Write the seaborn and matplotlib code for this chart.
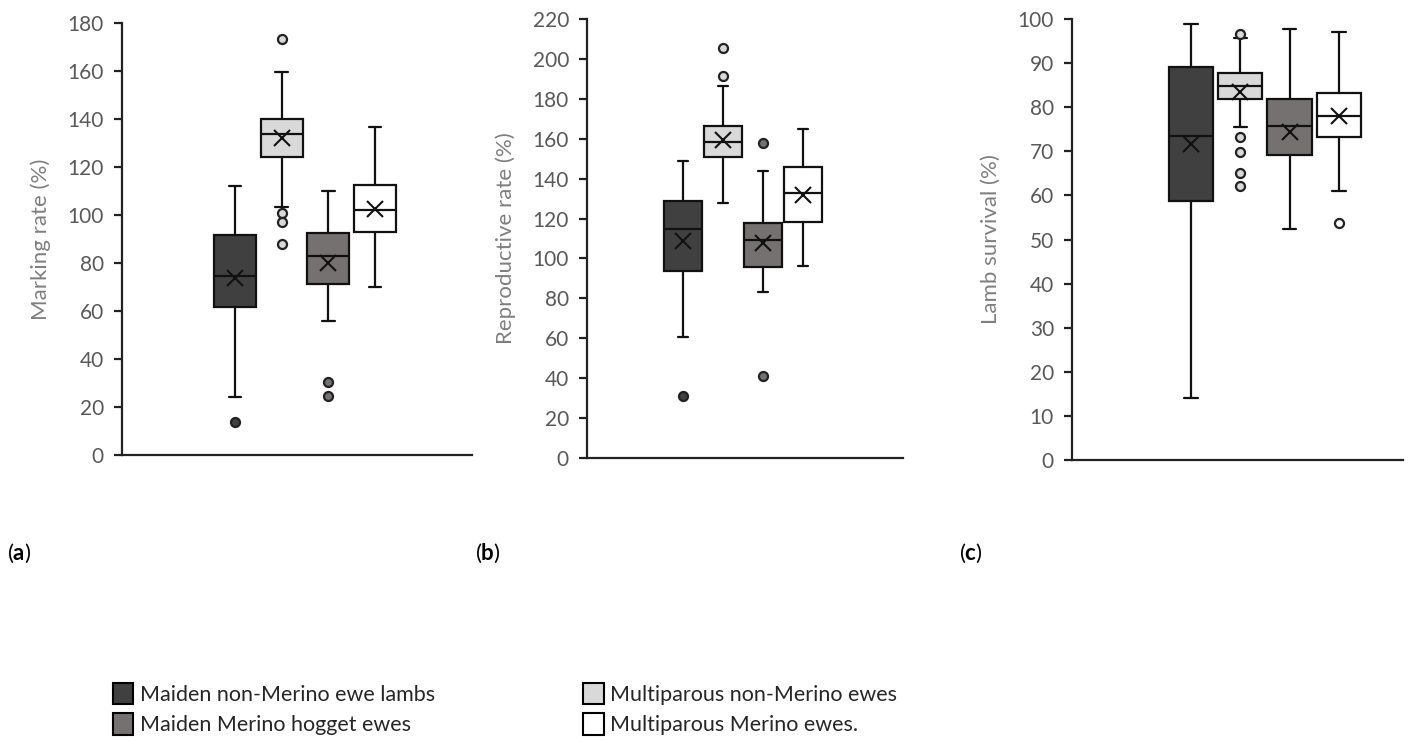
import matplotlib
matplotlib.use("Agg")
import matplotlib.pyplot as plt
from matplotlib.patches import Patch
import seaborn as sns

sns.set_theme(style="ticks")
plt.rcParams['font.family'] = ['Lato', 'DejaVu Sans']
plt.rcParams['mathtext.fontset'] = 'custom'
plt.rcParams['mathtext.rm'] = 'Lato'
plt.rcParams['mathtext.bf'] = 'Lato:bold'

groups = ["Maiden non-Merino ewe lambs", "Multiparous non-Merino ewes",
          "Maiden Merino hogget ewes", "Multiparous Merino ewes."]
colors = ["#404040", "#d9d9d9", "#767171", "#ffffff"]

# Panel (a) Marking rate (%)
a_whislo = [24.3, 103.5, 56.0, 70.0]
a_q1 = [61.8, 124.3, 71.3, 93.1]
a_med = [74.4, 133.7, 83.1, 101.9]
a_q3 = [91.8, 140.0, 92.4, 112.6]
a_whishi = [111.9, 159.7, 110.0, 136.5]
a_mean = [73.8, 132.0, 80.2, 102.3]
a_fliers = [[13.9], [173.5, 101.0, 96.9, 87.9], [30.6, 24.7], []]

# Panel (b) Reproductive rate (%)
b_whislo = [60.6, 128.0, 83.1, 96.0]
b_q1 = [93.6, 150.7, 95.6, 118.3]
b_med = [115.0, 158.2, 109.3, 132.9]
b_q3 = [128.8, 166.4, 118.0, 145.7]
b_whishi = [149.0, 186.6, 143.9, 164.9]
b_mean = [108.5, 159.2, 107.7, 131.9]
b_fliers = [[31.2], [205.6, 191.3], [157.7, 40.9], []]

# Panel (c) Lamb survival (%)
c_whislo = [14.0, 75.6, 52.3, 61.0]
c_q1 = [58.8, 81.8, 69.2, 73.3]
c_med = [73.5, 84.7, 75.7, 78.0]
c_q3 = [89.1, 87.7, 81.9, 83.2]
c_whishi = [98.8, 95.8, 97.7, 97.1]
c_mean = [71.6, 83.5, 74.4, 78.0]
c_fliers = [[], [96.5, 73.2, 69.9, 65.0, 62.1], [], [53.7]]

panels = [
    dict(whislo=a_whislo, q1=a_q1, med=a_med, q3=a_q3, whishi=a_whishi, mean=a_mean,
         fliers=a_fliers, ylabel="Marking rate (%)", ymax=180, step=20,
         rect=[122/1409, 1-455/742, 350/1409, 432/742], xlim=(-2.42, 5.08), width=0.9, tag="a"),
    dict(whislo=b_whislo, q1=b_q1, med=b_med, q3=b_q3, whishi=b_whishi, mean=b_mean,
         fliers=b_fliers, ylabel="Reproductive rate (%)", ymax=220, step=20,
         rect=[587/1409, 1-458/742, 316/1409, 439/742], xlim=(-2.4, 5.5), width=0.93, tag="b"),
    dict(whislo=c_whislo, q1=c_q1, med=c_med, q3=c_q3, whishi=c_whishi, mean=c_mean,
         fliers=c_fliers, ylabel="Lamb survival (%)", ymax=100, step=10,
         rect=[1072/1409, 1-460/742, 331/1409, 441/742], xlim=(-2.41, 4.3), width=0.9, tag="c"),
]
tag_x = [7/1409, 475/1409, 959/1409]

fig = plt.figure(figsize=(14.09, 7.42), dpi=100)
fig.patch.set_facecolor("white")

for i, p in enumerate(panels):
    ax = fig.add_axes(p["rect"])
    stats = []
    for k in range(4):
        stats.append(dict(whislo=p["whislo"][k], q1=p["q1"][k], med=p["med"][k],
                          q3=p["q3"][k], whishi=p["whishi"][k], mean=p["mean"][k],
                          fliers=p["fliers"][k], label=groups[k]))
    res = ax.bxp(stats, positions=range(4), widths=p["width"], capwidths=0.27,
                 patch_artist=True, showmeans=True, showfliers=True,
                 boxprops=dict(edgecolor="#111111", linewidth=1.6),
                 medianprops=dict(color="#111111", linewidth=1.6),
                 whiskerprops=dict(color="#111111", linewidth=1.6),
                 capprops=dict(color="#111111", linewidth=1.6),
                 meanprops=dict(marker="x", markersize=12, markeredgecolor="#111111",
                                markeredgewidth=1.5),
                 flierprops=dict(marker="o", markersize=6.5, markeredgecolor="#222222",
                                 markeredgewidth=1.6))
    for k, box in enumerate(res["boxes"]):
        box.set_facecolor(colors[k])
    for k, fl in enumerate(res["fliers"]):
        fl.set_markerfacecolor(colors[k])
    ax.set_xlim(*p["xlim"])
    ax.set_ylim(0, p["ymax"])
    ax.set_yticks(range(0, p["ymax"] + 1, p["step"]))
    ax.set_xticks([])
    ax.set_facecolor("white")
    sns.despine(ax=ax)
    for s in ["left", "bottom"]:
        ax.spines[s].set_color("#222222")
        ax.spines[s].set_linewidth(1.6)
    ax.tick_params(axis="y", length=6, width=1.6, color="#222222", pad=7,
                   labelsize=15, labelcolor="#595959")
    ax.set_ylabel(p["ylabel"], fontsize=16, color="#7f7f7f", labelpad=12)
    fig.text(tag_x[i], 1 - 553/742, r"($\mathbf{%s}$)" % p["tag"], fontsize=16,
             color="black", va="center")

handles = [Patch(facecolor=colors[0], edgecolor="black", linewidth=1.5, label=groups[0]),
           Patch(facecolor=colors[2], edgecolor="black", linewidth=1.5, label=groups[2]),
           Patch(facecolor=colors[1], edgecolor="black", linewidth=1.5, label=groups[1]),
           Patch(facecolor=colors[3], edgecolor="black", linewidth=1.5, label=groups[3])]
fig.legend(handles=handles, ncol=2, frameon=False, loc="upper left",
           bbox_to_anchor=(102/1409, 1 - 672/742), fontsize=15.5,
           handlelength=0.95, handleheight=1.15, handletextpad=0.3,
           columnspacing=6.9, labelspacing=0.4, borderpad=0)

fig.savefig("out.png", dpi=100, facecolor="white")
